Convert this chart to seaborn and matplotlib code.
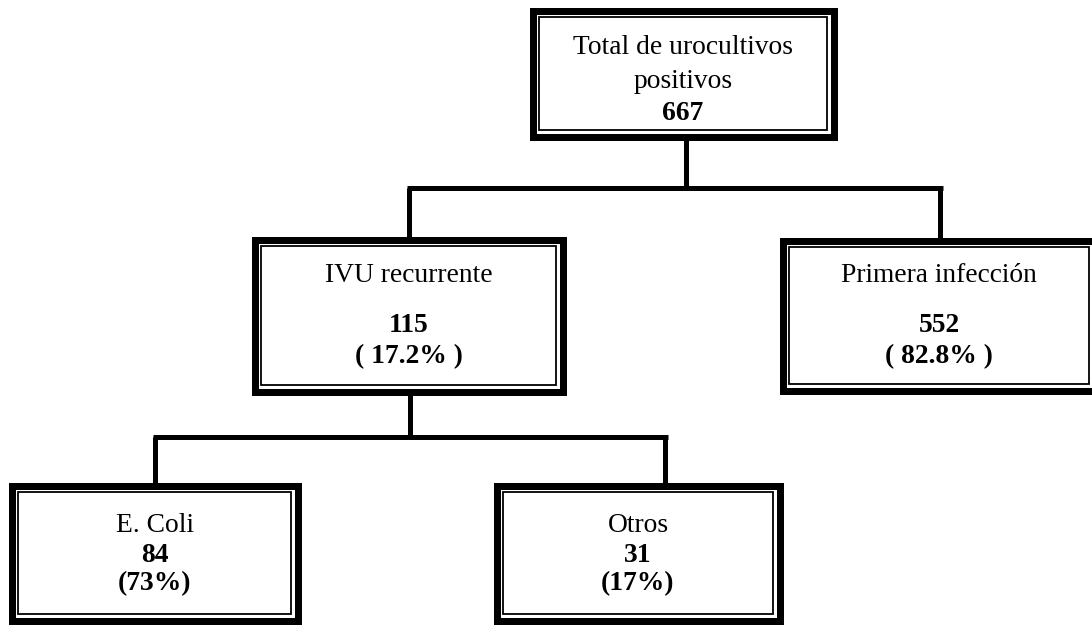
import matplotlib
matplotlib.use("Agg")
import matplotlib.pyplot as plt
from matplotlib.patches import Rectangle
import seaborn as sns

# ---- data ----
node_titles = ["Total de urocultivos\npositivos", "IVU recurrente", "Primera infección", "E. Coli", "Otros"]
node_counts = [667, 115, 552, 84, 31]
node_pcts = ["", "( 17.2% )", "( 82.8% )", "(73%)", "(17%)"]
edges = [(0, 1), (0, 2), (1, 3), (1, 4)]

# ---- layout (pixel coordinates: x0, y0, x1, y1 of outer border) ----
boxes = [(529, 7, 837, 140), (251, 236, 566, 395), (779, 237, 1099, 394),
         (8, 482, 301, 624), (493, 482, 783, 624)]

sns.set_style("white")
plt.rcParams['font.family'] = ['Liberation Serif', 'DejaVu Serif']
plt.rcParams['text.color'] = 'black'

W, H = 1092, 625
fig = plt.figure(figsize=(W / 100, H / 100), dpi=100)
ax = fig.add_axes([0, 0, 1, 1])
ax.set_xlim(0, W)
ax.set_ylim(H, 0)
ax.axis("off")

PX = 0.72  # points per pixel at dpi 100


def draw_box(x0, y0, x1, y1):
    t = 7  # thick border px
    ax.add_patch(Rectangle((x0 + t / 2, y0 + t / 2), x1 - x0 - t, y1 - y0 - t,
                           fill=True, facecolor="white", edgecolor="black",
                           lw=t * PX, joinstyle="miter", zorder=3))
    g = 10
    ax.add_patch(Rectangle((x0 + g, y0 + g), x1 - x0 - 2 * g, y1 - y0 - 2 * g,
                           fill=False, edgecolor="black", lw=1.8 * PX,
                           joinstyle="miter", zorder=4))


def connect(parent, children, pcx, kx, ymid):
    py1 = boxes[parent][3]
    kids = [boxes[c] for c in children]
    lw = 5 * PX
    ax.plot([pcx, pcx], [py1, ymid], color="black", lw=lw, zorder=1, solid_capstyle="butt")
    ax.plot([min(kx) - 2.5, max(kx) + 2.5], [ymid, ymid], color="black", lw=lw, zorder=1,
            solid_capstyle="butt")
    for x, k in zip(kx, kids):
        ax.plot([x, x], [ymid, k[1] + 3], color="black", lw=lw, zorder=1, solid_capstyle="butt")


connect(0, [1, 2], 686, [409, 940], 188)
connect(1, [3, 4], 410, [155, 665], 437)

for b in boxes:
    draw_box(*b)

fs = 19.8
kw = dict(ha="center", va="center", fontsize=fs, zorder=5, color="black")
# top box
cx = (boxes[0][0] + boxes[0][2]) / 2
t1, t2 = node_titles[0].split("\n")
ax.text(cx, 47, t1, **kw)
ax.text(cx, 82, t2, **kw)
ax.text(cx, 113, str(node_counts[0]), fontweight="bold", **kw)

# middle boxes
for i in (1, 2):
    x0, y0, x1, y1 = boxes[i]
    cx = (x0 + x1) / 2
    ax.text(cx, 275, node_titles[i], **kw)
    ax.text(cx, 325, str(node_counts[i]), fontweight="bold", **kw)
    ax.text(cx, 357, node_pcts[i], fontweight="bold", **kw)

# bottom boxes
for i in (3, 4):
    x0, y0, x1, y1 = boxes[i]
    cx = (x0 + x1) / 2
    ax.text(cx, 525, node_titles[i], **kw)
    ax.text(cx, 555, str(node_counts[i]), fontweight="bold", **kw)
    ax.text(cx, 584, node_pcts[i], fontweight="bold", **kw)

fig.savefig("out.png", dpi=100, facecolor="white")
